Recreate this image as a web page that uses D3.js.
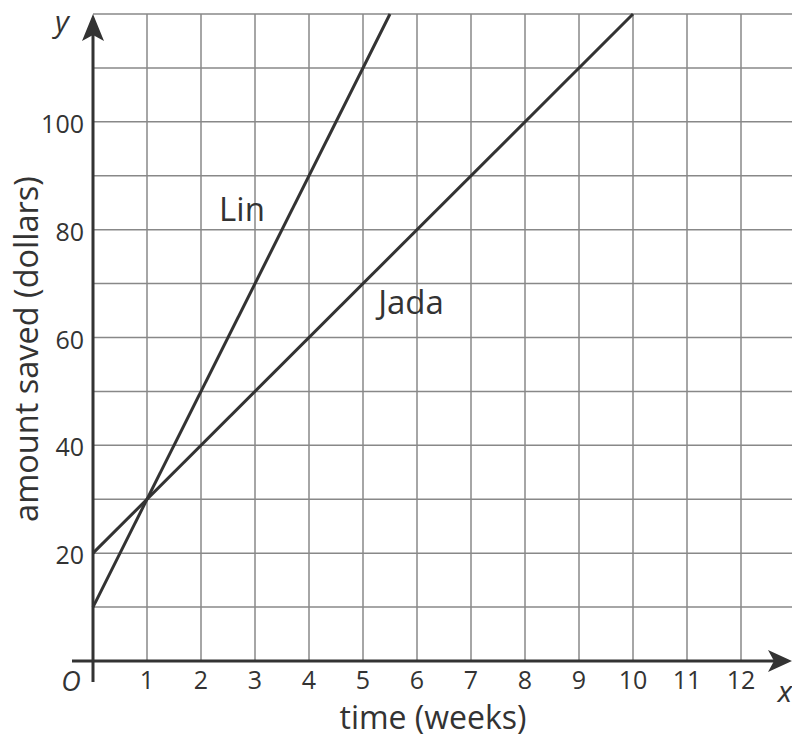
<!DOCTYPE html>
<html>
<head>
<meta charset="utf-8">
<script src="https://cdn.jsdelivr.net/npm/d3@7"></script>
<style>
  body { margin: 0; background: #fff; }
  text { font-family: "Open Sans", sans-serif; fill: #333; }
</style>
</head>
<body>
<svg id="chart" width="792" height="740"></svg>
<script>
// x grid runs 0..13, y grid runs 0..120
const xTicks = [1, 2, 3, 4, 5, 6, 7, 8, 9, 10, 11, 12]
const yTicks = [20, 40, 60, 80, 100]
const xGrid = [1, 2, 3, 4, 5, 6, 7, 8, 9, 10, 11, 12]
const yGrid = [10, 20, 30, 40, 50, 60, 70, 80, 90, 100, 110, 120]

// weeks vs dollars for each person
const linWeeks = [0, 5.5]
const linDollars = [10, 120]
const jadaWeeks = [0, 10]
const jadaDollars = [20, 120]

const svg = d3.select("#chart")

// 54px per week, origin at (93,661)
const x = d3.scaleLinear().domain([0, 1]).range([93, 147])
const y = d3.scaleLinear().domain([0, 120]).range([661, 14])

//grid
svg.append("g").selectAll("line").data(xGrid).enter().append("line")
    .attr("x1", d => x(d)).attr("x2", d => x(d))
    .attr("y1", y(0)).attr("y2", y(120))
    .attr("stroke", "#888").attr("stroke-width", 1.5)
svg.append("g").selectAll("line").data(yGrid).enter().append("line")
    .attr("x1", x(0)).attr("x2", 792)
    .attr("y1", d => y(d)).attr("y2", d => y(d))
    .attr("stroke", "#888").attr("stroke-width", 1.5)

//axes
svg.append("line").attr("x1", 72).attr("x2", 775)
    .attr("y1", y(0)).attr("y2", y(0))
    .attr("stroke", "#333").attr("stroke-width", 3)
svg.append("line").attr("x1", x(0)).attr("x2", x(0))
    .attr("y1", 682).attr("y2", 30)
    .attr("stroke", "#333").attr("stroke-width", 3)
// arrow heads
svg.append("path")
    .attr("d", `M${x(0)},${y(120)} L${x(0) - 11},${y(120) + 27} L${x(0)},${y(120) + 21} L${x(0) + 11},${y(120) + 27} Z`)
    .attr("fill", "#333")
svg.append("path")
    .attr("d", `M792,${y(0)} L768,${y(0) - 11} L774,${y(0)} L768,${y(0) + 11} Z`)
    .attr("fill", "#333")

//data lines
const line = d3.line().x(d => x(d[0])).y(d => y(d[1]))
svg.append("path").datum(d3.zip(linWeeks, linDollars))
    .attr("d", line).attr("fill", "none")
    .attr("stroke", "#333").attr("stroke-width", 3)
svg.append("path").datum(d3.zip(jadaWeeks, jadaDollars))
    .attr("d", line).attr("fill", "none")
    .attr("stroke", "#333").attr("stroke-width", 3)

//tick labels
svg.append("g").selectAll("text").data(xTicks).enter().append("text")
    .attr("x", d => x(d)).attr("y", 689)
    .attr("text-anchor", "middle").attr("font-size", 25)
    .text(d => d)
svg.append("g").selectAll("text").data(yTicks).enter().append("text")
    .attr("x", 84).attr("y", d => y(d) + 11)
    .attr("text-anchor", "end").attr("font-size", 25)
    .text(d => d)
svg.append("text").attr("x", 71).attr("y", 691)
    .attr("text-anchor", "middle").attr("font-size", 27).attr("font-style", "italic")
    .text("O")

//axis titles
svg.append("text").attr("x", 433).attr("y", 729)
    .attr("text-anchor", "middle").attr("font-size", 32)
    .text("time (weeks)")
svg.append("text").attr("transform", "translate(38,349) rotate(-90)")
    .attr("text-anchor", "middle").attr("font-size", 32.5)
    .text("amount saved (dollars)")
svg.append("text").attr("x", 62).attr("y", 32)
    .attr("text-anchor", "middle").attr("font-size", 30).attr("font-style", "italic")
    .text("y")
svg.append("text").attr("x", 785).attr("y", 702)
    .attr("text-anchor", "middle").attr("font-size", 30).attr("font-style", "italic")
    .text("x")

//line labels
svg.append("text").attr("x", 242).attr("y", 221)
    .attr("text-anchor", "middle").attr("font-size", 33).text("Lin")
svg.append("text").attr("x", 411).attr("y", 314)
    .attr("text-anchor", "middle").attr("font-size", 33).text("Jada")
</script>
</body>
</html>
